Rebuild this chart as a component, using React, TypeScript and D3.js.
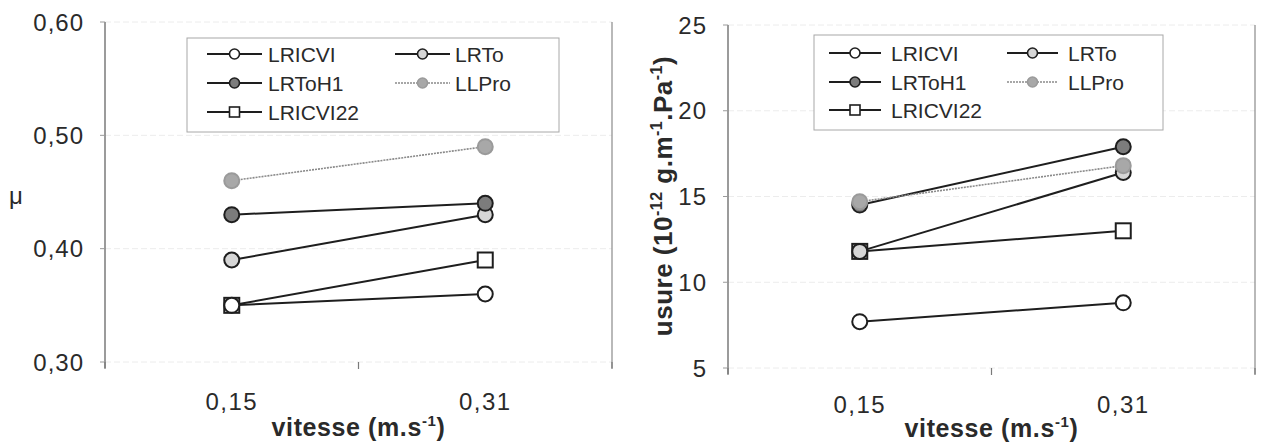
import React from "react";
import * as d3 from "d3";

const categories = ["0,15", "0,31"];

// Friction coefficient (left chart)
const muLRICVI = [0.35, 0.36];
const muLRTo = [0.39, 0.43];
const muLRToH1 = [0.43, 0.44];
const muLLPro = [0.46, 0.49];
const muLRICVI22 = [0.35, 0.39];
const muTicks = [0.3, 0.4, 0.5, 0.6];

// Wear (right chart)
const usureLRICVI = [7.7, 8.8];
const usureLRTo = [11.8, 16.4];
const usureLRToH1 = [14.5, 17.9];
const usureLLPro = [14.7, 16.8];
const usureLRICVI22 = [11.8, 13.0];
const usureTicks = [5, 10, 15, 20, 25];

const FONT = "'Liberation Sans', Arial, Helvetica, sans-serif";

type Style = { marker: "circle" | "square"; fill: string; stroke: string; line: string; lw: number; dash?: string };
const styles: Record<string, Style> = {
  LRICVI: { marker: "circle", fill: "#ffffff", stroke: "#1e1e1e", line: "#1e1e1e", lw: 2 },
  LRTo: { marker: "circle", fill: "#d6d6d6", stroke: "#1e1e1e", line: "#1e1e1e", lw: 2 },
  LRToH1: { marker: "circle", fill: "#7c7c7c", stroke: "#1e1e1e", line: "#1e1e1e", lw: 2 },
  LLPro: { marker: "circle", fill: "#a8a8a8", stroke: "#9a9a9a", line: "#8a8a8a", lw: 1.6, dash: "2,1" },
  LRICVI22: { marker: "square", fill: "#ffffff", stroke: "#1e1e1e", line: "#1e1e1e", lw: 2 },
};
const drawOrder = ["LRICVI22", "LRICVI", "LRTo", "LRToH1", "LLPro"];

function Marker({ x, y, s, r, sw }: { x: number; y: number; s: Style; r: number; sw: number }) {
  if (s.marker === "square")
    return <rect x={x - r} y={y - r} width={2 * r} height={2 * r} fill={s.fill} stroke={s.stroke} strokeWidth={sw} />;
  return <circle cx={x} cy={y} r={r} fill={s.fill} stroke={s.stroke} strokeWidth={sw} />;
}

type Cfg = {
  x0: number; x1: number; yTop: number; yBot: number; axisBot: number;
  domain: [number, number]; ticks: number[]; fmt: (v: number) => string;
  data: Record<string, number[]>;
  labelX: number; xLabelY: number; titleY: number;
  legend: { x: number; y: number; w: number; h: number; rows: number[]; cols: { l0: number; l1: number; t: number }[] };
};

function Chart({ c }: { c: Cfg }) {
  const x = d3.scaleBand<string>().domain(categories).range([c.x0, c.x1]);
  const y = d3.scaleLinear().domain(c.domain).range([c.yBot, c.yTop]);
  const cx = (cat: string) => (x(cat) as number) + x.bandwidth() / 2;
  const line = d3.line<[number, number]>().x((d) => d[0]).y((d) => d[1]);
  const legendLayout: [string, number, number][] = [
    ["LRICVI", 0, 0], ["LRToH1", 0, 1], ["LRICVI22", 0, 2], ["LRTo", 1, 0], ["LLPro", 1, 1],
  ];
  const boundaries = [c.x0, ...categories.map((k) => (x(k) as number) + x.bandwidth())];
  return (
    <g>
      {c.ticks.map((t) => (
        <line key={"g" + t} x1={c.x0} x2={c.x1} y1={y(t)} y2={y(t)} stroke="#ececec" strokeWidth={1} strokeDasharray="6,3" />
      ))}
      <line x1={c.x0} x2={c.x0} y1={c.yTop} y2={c.axisBot} stroke="#7a7a7a" strokeWidth={1.5} />
      <line x1={c.x1} x2={c.x1} y1={c.yTop} y2={c.axisBot} stroke="#8a8a8a" strokeWidth={1.2} />
      {c.ticks.map((t) => (
        <line key={"yt" + t} x1={c.x0 - 5} x2={c.x0} y1={y(t)} y2={y(t)} stroke="#9a9a9a" strokeWidth={1} />
      ))}
      {boundaries.map((b, i) => (
        <line key={"xt" + i} x1={b} x2={b} y1={c.yBot} y2={c.yBot + 7} stroke="#7a7a7a" strokeWidth={1.2} />
      ))}
      {c.ticks.map((t) => (
        <text key={"yl" + t} x={c.labelX} y={y(t)} textAnchor="end" dominantBaseline="central" fontFamily={FONT} fontSize={24} letterSpacing={1} fill="#2a2a2a">
          {c.fmt(t)}
        </text>
      ))}
      {categories.map((k) => (
        <text key={"xl" + k} x={cx(k)} y={c.xLabelY} textAnchor="middle" fontFamily={FONT} fontSize={24} letterSpacing={1.5} fill="#2a2a2a">
          {k}
        </text>
      ))}
      <text x={(c.x0 + c.x1) / 2} y={c.titleY} textAnchor="middle" fontFamily={FONT} fontSize={25} fontWeight="bold" letterSpacing={0.6} fill="#2a2a2a">
        vitesse (m.s<tspan dy={-10} fontSize={15}>-1</tspan><tspan dy={10}>)</tspan>
      </text>
      <rect x={c.legend.x} y={c.legend.y} width={c.legend.w} height={c.legend.h} fill="#ffffff" stroke="#a8a8a8" strokeWidth={1} />
      {legendLayout.map(([name, col, row]) => {
        const s = styles[name];
        const L = c.legend.cols[col];
        const yy = c.legend.rows[row];
        return (
          <g key={"lg" + name}>
            <line x1={L.l0} x2={L.l1} y1={yy} y2={yy} stroke={s.line} strokeWidth={s.lw} strokeDasharray={s.dash} />
            <Marker x={(L.l0 + L.l1) / 2} y={yy} s={s} r={5} sw={1.6} />
            <text x={L.t} y={yy} dominantBaseline="central" fontFamily={FONT} fontSize={21} fill="#2a2a2a">{name}</text>
          </g>
        );
      })}
      {drawOrder.map((name) => {
        const s = styles[name];
        const pts: [number, number][] = categories.map((k, i) => [cx(k), y(c.data[name][i])]);
        return (
          <g key={"s" + name}>
            <path d={line(pts) as string} fill="none" stroke={s.line} strokeWidth={s.lw} strokeDasharray={s.dash} />
            {pts.map((p, i) => (
              <Marker key={i} x={p[0]} y={p[1]} s={s} r={7.5} sw={2} />
            ))}
          </g>
        );
      })}
    </g>
  );
}

const comma = (f: string) => (v: number) => d3.format(f)(v).replace(".", ",");

export default function App() {
  const left: Cfg = {
    x0: 105, x1: 612, yTop: 22, yBot: 362, axisBot: 368,
    domain: [0.3, 0.6], ticks: muTicks, fmt: comma(".2f"),
    data: { LRICVI: muLRICVI, LRTo: muLRTo, LRToH1: muLRToH1, LLPro: muLLPro, LRICVI22: muLRICVI22 },
    labelX: 84, xLabelY: 410, titleY: 436,
    legend: { x: 187, y: 38, w: 372, h: 94, rows: [54, 83, 112], cols: [{ l0: 207, l1: 262, t: 268 }, { l0: 395, l1: 450, t: 455 }] },
  };
  const right: Cfg = {
    x0: 728, x1: 1255, yTop: 25, yBot: 368, axisBot: 374,
    domain: [5, 25], ticks: usureTicks, fmt: comma("d"),
    data: { LRICVI: usureLRICVI, LRTo: usureLRTo, LRToH1: usureLRToH1, LLPro: usureLLPro, LRICVI22: usureLRICVI22 },
    labelX: 707, xLabelY: 413, titleY: 437,
    legend: { x: 814, y: 35, w: 349, h: 95, rows: [53, 82, 110], cols: [{ l0: 829, l1: 881, t: 891 }, { l0: 1007, l1: 1058, t: 1068 }] },
  };
  return (
    <svg width={1265} height={445} style={{ position: "absolute", left: 0, top: 0, background: "#ffffff" }}>
      <rect x={0} y={0} width={1265} height={445} fill="#ffffff" />
      <Chart c={left} />
      <Chart c={right} />
      <text x={16} y={204} textAnchor="middle" fontFamily={FONT} fontSize={24} fill="#2a2a2a">μ</text>
      <text transform="translate(672,196) rotate(-90)" textAnchor="middle" fontFamily={FONT} fontSize={26} fontWeight="bold" letterSpacing={0.5} fill="#2a2a2a">
        usure (10<tspan dy={-10} fontSize={16}>-12</tspan><tspan dy={10}> g.m</tspan><tspan dy={-10} fontSize={16}>-1</tspan><tspan dy={10}>.Pa</tspan><tspan dy={-10} fontSize={16}>-1</tspan><tspan dy={10}>)</tspan>
      </text>
    </svg>
  );
}
